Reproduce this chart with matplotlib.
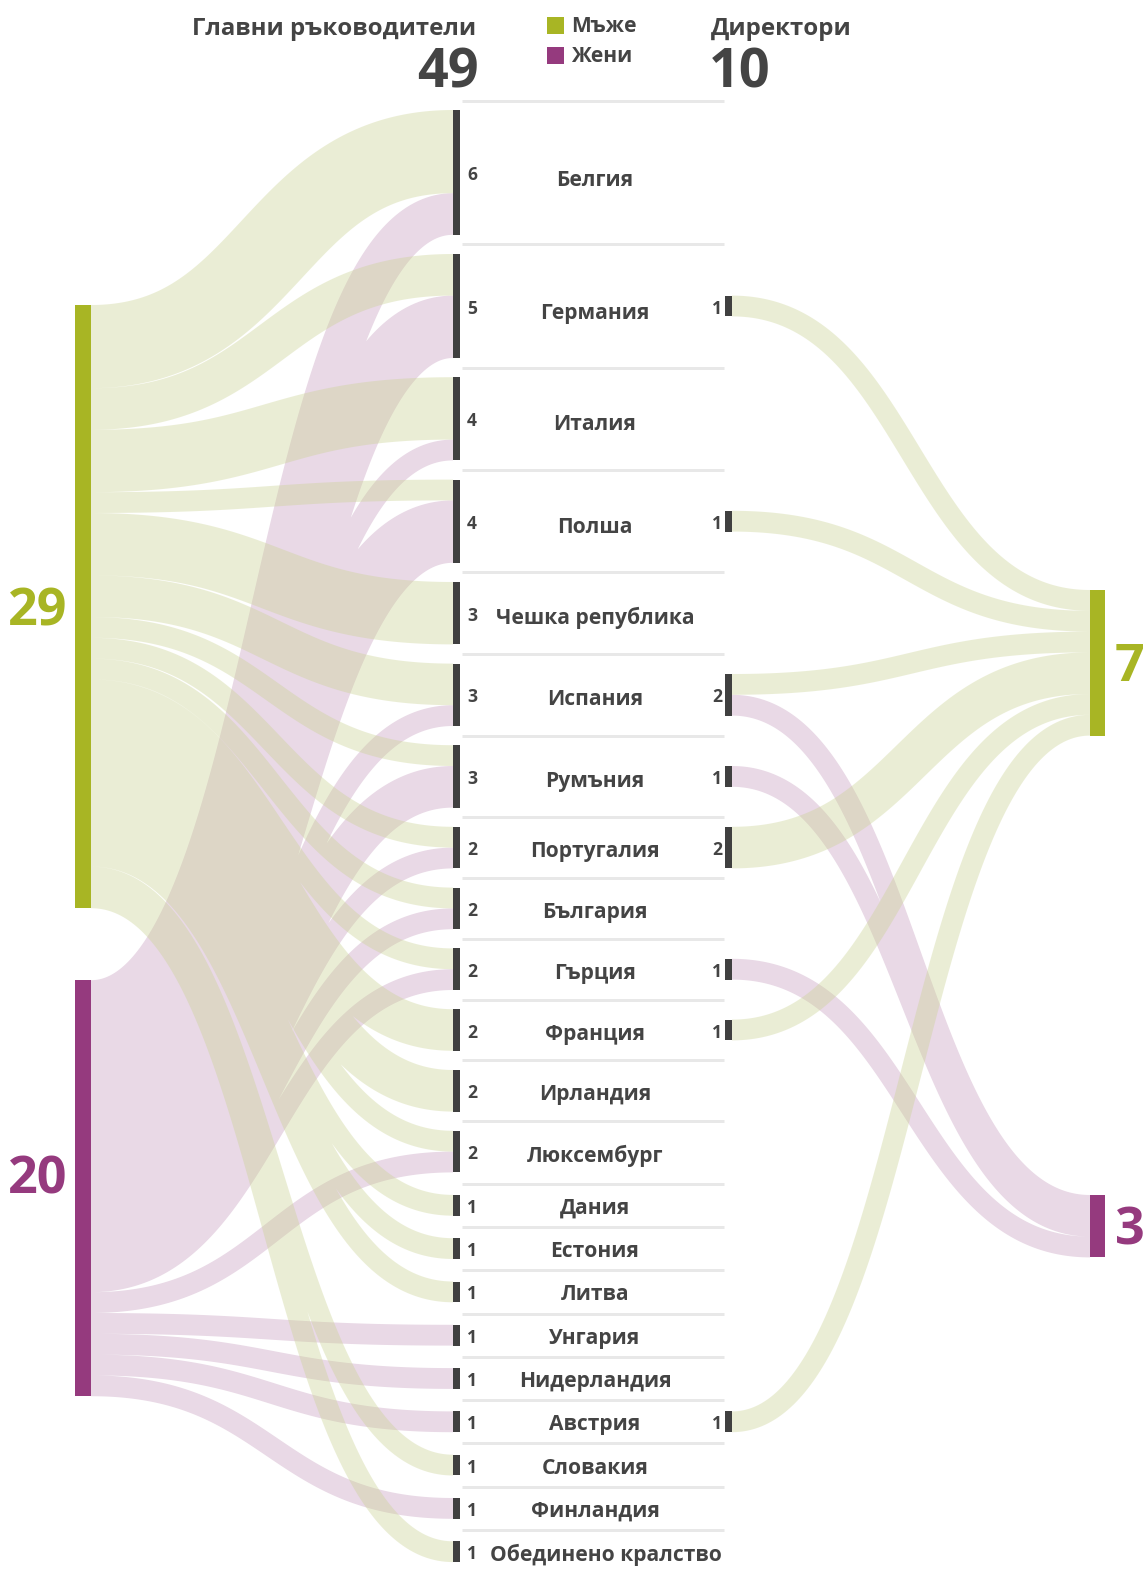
import numpy as np
import matplotlib
matplotlib.use("Agg")
from matplotlib import pyplot as plt
from matplotlib.path import Path
from matplotlib.patches import PathPatch, Rectangle

# ── data ───────────────────────────────────────────────────────────────
countries = ["Белгия", "Германия", "Италия", "Полша", "Чешка република",
             "Испания", "Румъния", "Португалия", "България", "Гърция",
             "Франция", "Ирландия", "Люксембург", "Дания", "Естония",
             "Литва", "Унгария", "Нидерландия", "Австрия", "Словакия",
             "Финландия", "Обединено кралство"]
heads_men   = [4, 2, 3, 1, 3, 2, 1, 1, 1, 1, 2, 2, 1, 1, 1, 1, 0, 0, 0, 1, 0, 1]
heads_women = [2, 3, 1, 3, 0, 1, 2, 1, 1, 1, 0, 0, 1, 0, 0, 0, 1, 1, 1, 0, 1, 0]
dir_men     = [0, 1, 0, 1, 0, 1, 0, 2, 0, 0, 1, 0, 0, 0, 0, 0, 0, 0, 1, 0, 0, 0]
dir_women   = [0, 0, 0, 0, 0, 1, 1, 0, 0, 1, 0, 0, 0, 0, 0, 0, 0, 0, 0, 0, 0, 0]
legend_labels = ["Мъже", "Жени"]
title_heads = "Главни ръководители"
title_dirs = "Директори"

# ── style / layout (pixels) ────────────────────────────────────────────
GREEN, PURPLE = "#a8b524", "#953a7e"
DARK, TEXT = "#404040", "#444444"
LINK_PURPLE = "#e9d9e6"
LINK_GREEN, GREEN_ALPHA = "#cad293", 0.38
K = 20.8                       # px per person
X_LEFT, W_LEFT = 75, 16
X_MID, W_MID = 453, 7
X_DIR, W_DIR = 725, 7
X_RIGHT, W_RIGHT = 1090, 15
FONT = "Open Sans"


def px(v):
    return v * 0.72


def band(x0, y0, x1, y1, w, n=160):
    """Area swept by a stroked sankey link, as positively oriented
    triangles so that a compound path fills their union."""
    t = np.linspace(0, 1, n)[:, None]
    xm = (x0 + x1) / 2
    p0, p1 = np.array([x0, y0]), np.array([xm, y0])
    p2, p3 = np.array([xm, y1]), np.array([x1, y1])
    pts = ((1 - t) ** 3 * p0 + 3 * (1 - t) ** 2 * t * p1
           + 3 * (1 - t) * t ** 2 * p2 + t ** 3 * p3)
    d = (3 * (1 - t) ** 2 * (p1 - p0) + 6 * (1 - t) * t * (p2 - p1)
         + 3 * t ** 2 * (p3 - p2))
    nrm = np.column_stack([-d[:, 1], d[:, 0]])
    nrm /= np.hypot(nrm[:, 0], nrm[:, 1])[:, None]
    up, lo = pts + nrm * w / 2, pts - nrm * w / 2
    a = np.concatenate([up[:-1], up[:-1]])
    b = np.concatenate([up[1:], lo[1:]])
    c = np.concatenate([lo[1:], lo[:-1]])
    cross = ((b[:, 0] - a[:, 0]) * (c[:, 1] - a[:, 1])
             - (b[:, 1] - a[:, 1]) * (c[:, 0] - a[:, 0]))
    neg = cross < 0
    b2, c2 = b.copy(), c.copy()
    b2[neg], c2[neg] = c[neg], b[neg]
    return np.stack([a, b2, c2, a], axis=1)


def compound(tri_sets):
    tris = np.concatenate(tri_sets)
    verts = tris.reshape(-1, 2)
    codes = np.tile([Path.MOVETO, Path.LINETO, Path.LINETO, Path.CLOSEPOLY],
                    len(tris))
    return Path(verts, codes)


tot = [m + f for m, f in zip(heads_men, heads_women)]
n_men, n_women = sum(heads_men), sum(heads_women)

# middle column positions
mid_top = []
y = 110
for i, n in enumerate(tot):
    if i:
        y += 19.2 if n >= 2 else 22.5
    mid_top.append(y)
    y += n * K

men_top = 305
women_top = men_top + n_men * K + 72
rmen_top, rwomen_top = 590, 1195

fig = plt.figure(figsize=(11.43, 15.70), dpi=100)
ax = fig.add_axes([0, 0, 1, 1])
ax.set_xlim(0, 1143)
ax.set_ylim(1570, 0)
ax.axis("off")

green_sets, purple_sets = [], []

# heads: gender -> country
cm, cw = men_top, women_top
for i in range(len(countries)):
    if heads_men[i]:
        w = heads_men[i] * K
        green_sets.append(band(X_LEFT + W_LEFT, cm + w / 2,
                               X_MID, mid_top[i] + w / 2, w))
        cm += w
    if heads_women[i]:
        w = heads_women[i] * K
        y1 = mid_top[i] + heads_men[i] * K
        purple_sets.append(band(X_LEFT + W_LEFT, cw + w / 2,
                                X_MID, y1 + w / 2, w))
        cw += w

# directors: country -> gender
dir_top = {}
rm, rw = rmen_top, rwomen_top
for i in range(len(countries)):
    nd = dir_men[i] + dir_women[i]
    if not nd:
        continue
    centre = mid_top[i] + tot[i] * K / 2
    dt = centre - nd * K / 2
    dir_top[i] = dt
    if dir_men[i]:
        w = dir_men[i] * K
        green_sets.append(band(X_DIR + W_DIR, dt + w / 2,
                               X_RIGHT, rm + w / 2, w))
        rm += w
    if dir_women[i]:
        w = dir_women[i] * K
        y0 = dt + dir_men[i] * K
        purple_sets.append(band(X_DIR + W_DIR, y0 + w / 2,
                                X_RIGHT, rw + w / 2, w))
        rw += w

ax.add_patch(PathPatch(compound(purple_sets), facecolor=LINK_PURPLE,
                       edgecolor="none", zorder=1))
ax.add_patch(PathPatch(compound(green_sets), facecolor=LINK_GREEN,
                       alpha=GREEN_ALPHA, edgecolor="none", zorder=2))

# row separators
for i in range(len(countries)):
    if i == 0:
        ys = mid_top[0] - 9.5
    else:
        ys = (mid_top[i - 1] + tot[i - 1] * K + mid_top[i]) / 2
    ax.plot([462, 724], [ys, ys], color="#e8e8e8", lw=px(3), zorder=1.5,
            solid_capstyle="butt")

# nodes
ax.add_patch(Rectangle((X_LEFT, men_top), W_LEFT, n_men * K,
                       color=GREEN, zorder=3, lw=0))
ax.add_patch(Rectangle((X_LEFT, women_top), W_LEFT, n_women * K,
                       color=PURPLE, zorder=3, lw=0))
ax.add_patch(Rectangle((X_RIGHT, rmen_top), W_RIGHT, sum(dir_men) * K,
                       color=GREEN, zorder=3, lw=0))
ax.add_patch(Rectangle((X_RIGHT, rwomen_top), W_RIGHT, sum(dir_women) * K,
                       color=PURPLE, zorder=3, lw=0))

txt = dict(fontfamily=FONT, fontweight="bold", color=TEXT)
renderer = fig.canvas.get_renderer()
for i, name in enumerate(countries):
    ax.add_patch(Rectangle((X_MID, mid_top[i]), W_MID, tot[i] * K,
                           color=DARK, zorder=3, lw=0))
    c = mid_top[i] + tot[i] * K / 2
    ax.text(X_MID + W_MID + 7, c + 2.5, str(tot[i]), ha="left", va="center",
            fontsize=px(17.5), **txt)
    lab = ax.text(595, c + (tot[i] - 1) + 3, name, ha="center",
                  va="center", fontsize=px(21), **txt)
    bb = lab.get_window_extent(renderer)
    if bb.x0 < 490:
        lab.set_x(595 + 490 - bb.x0)
    if i in dir_top:
        nd = dir_men[i] + dir_women[i]
        ax.add_patch(Rectangle((X_DIR, dir_top[i]), W_DIR, nd * K,
                               color=DARK, zorder=3, lw=0))
        ax.text(X_DIR - 3, c + 2.5, str(nd), ha="right", va="center",
                fontsize=px(17.5), **txt)

# big side numbers
big = dict(fontfamily=FONT, fontweight="bold", fontsize=px(52))
ax.text(67, men_top + n_men * K / 2 + 5, str(n_men), ha="right",
        va="center", color=GREEN, **big)
ax.text(67, women_top + n_women * K / 2 - 8, str(n_women), ha="right",
        va="center", color=PURPLE, **big)
ax.text(1115, rmen_top + sum(dir_men) * K / 2 + 5, str(sum(dir_men)),
        ha="left", va="center", color=GREEN, **big)
ax.text(1115, rwomen_top + sum(dir_women) * K / 2 + 5, str(sum(dir_women)),
        ha="left", va="center", color=PURPLE, **big)

# header
ax.text(476, 29, title_heads, ha="right", va="center", fontsize=px(24),
        fontstretch="condensed", **txt)
ax.text(479, 73, str(n_men + n_women), ha="right", va="center",
        fontsize=px(54), fontfamily=FONT, fontweight="bold", color=TEXT)
ax.text(711, 29, title_dirs, ha="left", va="center", fontsize=px(24),
        fontstretch="condensed", **txt)
ax.text(709, 73, str(sum(dir_men) + sum(dir_women)), ha="left",
        va="center", fontsize=px(54), fontfamily=FONT, fontweight="bold",
        color=TEXT)
for k, (lab, col) in enumerate(zip(legend_labels, [GREEN, PURPLE])):
    yl = 25 + 30 * k
    ax.add_patch(Rectangle((547, yl - 8), 17, 17, color=col, lw=0))
    ax.text(571, yl + 2, lab, ha="left", va="center", fontsize=px(21),
            fontstretch="condensed", **txt)

fig.savefig("out.png", dpi=100, facecolor="white")
